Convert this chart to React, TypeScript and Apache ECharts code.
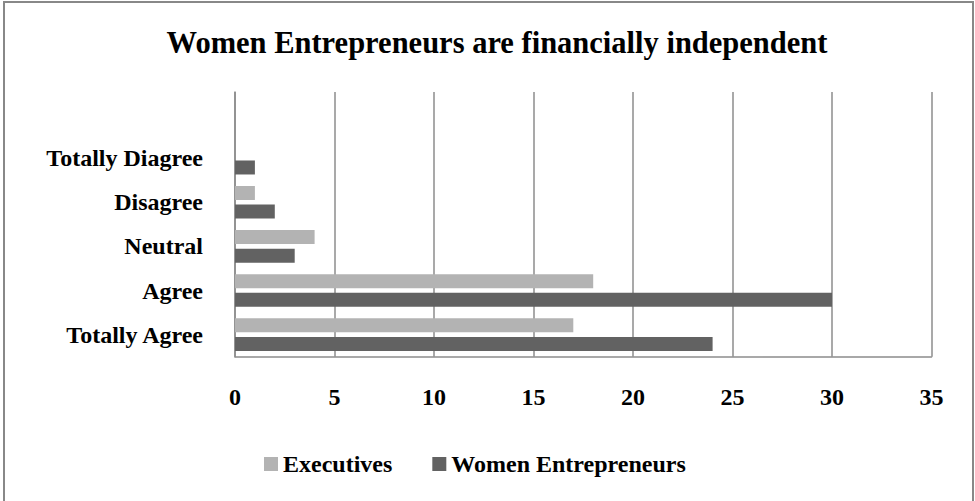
import React, { useEffect, useRef } from "react";
import * as echarts from "echarts";

const categories = ["Totally Agree", "Agree", "Neutral", "Disagree", "Totally Diagree", ""];
const executives = [17, 18, 4, 1, 0, null];
const womenEntrepreneurs = [24, 30, 3, 2, 1, null];
const seriesNames = ["Executives", "Women Entrepreneurs"];
const titleText = "Women Entrepreneurs are financially independent";

const FONT = "'Liberation Serif', 'Times New Roman', serif";

export default function App() {
  const ref = useRef<HTMLDivElement>(null);
  useEffect(() => {
    if (!ref.current) return;
    const chart = echarts.init(ref.current, null, { renderer: "svg" });
    chart.setOption({
      animation: false,
      backgroundColor: "#ffffff",
      title: {
        text: titleText,
        left: 492,
        textAlign: "center",
        top: 22,
        textStyle: { fontFamily: FONT, fontWeight: "bold", fontSize: 30.5, color: "#000" },
      },
      graphic: [
        {
          type: "rect",
          shape: { x: 4, y: 2, width: 969, height: 510 },
          style: { fill: "none", stroke: "#888888", lineWidth: 2 },
          silent: true,
        },
      ],
      legend: {
        data: seriesNames,
        left: 259,
        top: 447,
        itemWidth: 14,
        itemHeight: 14,
        itemGap: 40,
        icon: "rect",
        textStyle: { fontFamily: FONT, fontWeight: "bold", fontSize: 24, color: "#000" },
      },
      grid: { left: 235, right: 43.5, top: 92, bottom: 144.3, containLabel: false },
      xAxis: {
        type: "value",
        min: 0,
        max: 35,
        interval: 5,
        axisLine: { show: true, lineStyle: { color: "#8c8c8c", width: 1.5 } },
        axisTick: { show: false },
        splitLine: { show: true, lineStyle: { color: "#8c8c8c", width: 1.5 } },
        axisLabel: { margin: 28, fontFamily: FONT, fontWeight: "bold", fontSize: 24, color: "#000" },
      },
      yAxis: {
        type: "category",
        data: categories,
        axisLine: { show: true, lineStyle: { color: "#8c8c8c", width: 1.5 } },
        axisTick: { show: false },
        axisLabel: { margin: 32, fontFamily: FONT, fontWeight: "bold", fontSize: 24, color: "#000" },
      },
      series: [
        {
          name: seriesNames[0],
          type: "bar",
          data: executives,
          barWidth: 14,
          barGap: "33%",
          itemStyle: { color: "#b3b3b3" },
        },
        {
          name: seriesNames[1],
          type: "bar",
          data: womenEntrepreneurs,
          barWidth: 14,
          barGap: "33%",
          itemStyle: { color: "#626262" },
        },
      ],
    });
    return () => chart.dispose();
  }, []);
  return (
    <div
      ref={ref}
      style={{ position: "fixed", left: 0, top: 0, width: 975, height: 501, background: "#fff" }}
    />
  );
}
